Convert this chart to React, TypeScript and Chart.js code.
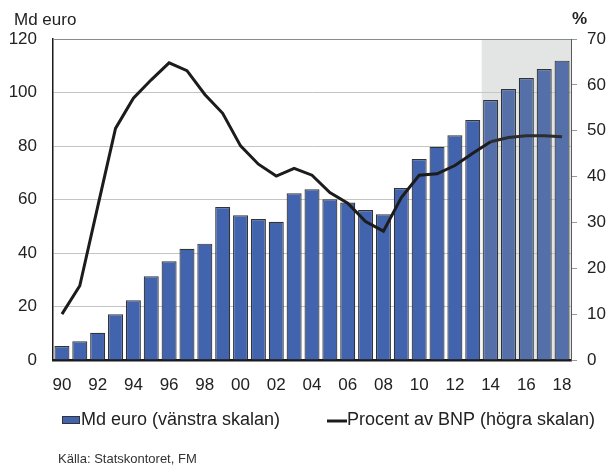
import React, { useEffect, useRef } from "react";
import { Chart, registerables } from "chart.js";

Chart.register(...registerables);

// ---- data ----
const categories = [
  "90", "91", "92", "93", "94", "95", "96", "97", "98", "99",
  "00", "01", "02", "03", "04", "05", "06", "07", "08", "09",
  "10", "11", "12", "13", "14", "15", "16", "17", "18",
];
const mdEuro = [
  5.2, 7.0, 10.2, 17.1, 22.3, 31.3, 36.9, 41.6, 43.5, 57.2,
  54.1, 52.7, 51.7, 62.3, 63.8, 60.1, 58.9, 56.1, 54.5, 64.3,
  75.1, 79.7, 84.0, 89.7, 97.2, 101.3, 105.4, 108.8, 111.9,
];
const procentAvBnp = [
  10.0, 16.2, 33.4, 50.5, 57.1, 61.1, 64.8, 63.1, 57.9, 53.8,
  46.7, 42.7, 40.1, 41.8, 40.3, 36.5, 34.2, 30.2, 28.1, 35.4,
  40.3, 40.6, 42.4, 45.1, 47.6, 48.5, 48.9, 48.9, 48.7,
];
const forecastFrom = "14";
const leftMax = 120;
const leftStep = 20;
const rightMax = 70;
const rightStep = 10;
const seriesLabels = ["Md euro (vänstra skalan)", "Procent av BNP (högra skalan)"];
const leftTitle = "Md euro";
const rightTitle = "%";
const sourceText = "Källa: Statskontoret, FM";

const FONT = "'Liberation Sans', Arial, Helvetica, sans-serif";
const TEXT = "#222222";
const BAR = "#4263ae";
const BAR_FC = "#5570a9";

export default function App() {
  const ref = useRef<HTMLCanvasElement | null>(null);

  useEffect(() => {
    if (!ref.current) return;
    const fcIndex = categories.indexOf(forecastFrom);

    const decor = {
      id: "decor",
      beforeDraw(chart: any) {
        const { ctx, chartArea, scales } = chart;
        const x = scales.x;
        const half = (x.getPixelForValue(1) - x.getPixelForValue(0)) / 2;
        const sx = x.getPixelForValue(fcIndex) - half;
        ctx.save();
        ctx.fillStyle = "#e3e5e5";
        ctx.fillRect(sx, chartArea.top, chartArea.right - sx, chartArea.bottom - chartArea.top);
        ctx.restore();
      },
      afterDraw(chart: any) {
        const { ctx, chartArea } = chart;
        ctx.save();
        // top border
        ctx.strokeStyle = "#8a8a8a";
        ctx.lineWidth = 1;
        ctx.beginPath();
        ctx.moveTo(chartArea.left, chartArea.top + 0.5);
        ctx.lineTo(chartArea.right, chartArea.top + 0.5);
        ctx.stroke();

        ctx.fillStyle = TEXT;
        ctx.textBaseline = "middle";
        ctx.font = `17px ${FONT}`;
        ctx.textAlign = "left";
        ctx.fillText(leftTitle, 14, 20);
        ctx.font = `bold 17px ${FONT}`;
        ctx.fillText(rightTitle, 572, 19);

        // legend
        ctx.font = `18px ${FONT}`;
        const ly = 420;
        ctx.fillStyle = BAR;
        ctx.fillRect(62, ly - 4, 18, 8);
        ctx.strokeStyle = "#333";
        ctx.lineWidth = 1;
        ctx.strokeRect(62.5, ly - 3.5, 17, 7);
        ctx.fillStyle = TEXT;
        ctx.fillText(seriesLabels[0], 81, ly);
        ctx.strokeStyle = "#1c1c1c";
        ctx.lineWidth = 3;
        ctx.beginPath();
        ctx.moveTo(327, ly + 1);
        ctx.lineTo(347, ly + 1);
        ctx.stroke();
        ctx.fillText(seriesLabels[1], 347, ly);

        // source
        ctx.font = `13px ${FONT}`;
        ctx.fillStyle = "#333";
        ctx.fillText(sourceText, 58, 459);
        ctx.restore();
      },
    };

    const chart = new Chart(ref.current, {
      type: "bar",
      data: {
        labels: categories,
        datasets: [
          {
            type: "line",
            label: seriesLabels[1],
            data: procentAvBnp,
            yAxisID: "y1",
            borderColor: "#1c1c1c",
            borderWidth: 3,
            pointRadius: 0,
            tension: 0,
            order: 0,
            segment: {
              borderColor: (c: any) => (c.p0DataIndex >= fcIndex ? "#2c2c2c" : "#1c1c1c"),
            },
          } as any,
          {
            type: "bar",
            label: seriesLabels[0],
            data: mdEuro,
            yAxisID: "y",
            backgroundColor: categories.map((_, i) => (i >= fcIndex ? BAR_FC : BAR)),
            borderColor: "#333333",
            borderWidth: 1.2,
            barPercentage: 0.84,
            categoryPercentage: 1,
            order: 1,
          },
        ],
      },
      options: {
        responsive: false,
        animation: false,
        devicePixelRatio: 1,
        layout: { padding: { left: 0, right: 0, top: 39, bottom: 0 } },
        plugins: { legend: { display: false }, tooltip: { enabled: false }, title: { display: false } },
        scales: {
          x: {
            grid: { display: false },
            border: { display: true, color: "#1a1a1a", width: 2.5 },
            ticks: {
              autoSkip: false,
              maxRotation: 0,
              padding: 7,
              color: TEXT,
              font: { family: FONT, size: 17 },
              callback: (_v: any, i: number) => (i % 2 === 0 ? categories[i] : ""),
            },
            afterFit: (s: any) => {
              s.height = 107;
            },
          },
          y: {
            position: "left",
            min: 0,
            max: leftMax,
            ticks: { stepSize: leftStep, padding: 16, color: TEXT, font: { family: FONT, size: 17 } },
            grid: { color: "#c4c4c4", lineWidth: 1, drawTicks: false },
            border: { display: true, color: "#1a1a1a", width: 1.5 },
            afterFit: (s: any) => {
              s.width = 53;
            },
          },
          y1: {
            position: "right",
            min: 0,
            max: rightMax,
            ticks: { stepSize: rightStep, padding: 10, color: TEXT, font: { family: FONT, size: 17 } },
            grid: { drawOnChartArea: false, drawTicks: true, tickLength: 6, tickColor: "#9a9a9a" },
            border: { display: true, color: "#5a5a5a", width: 1 },
            afterFit: (s: any) => {
              s.width = 36;
            },
          },
        },
      },
      plugins: [decor],
    });
    return () => chart.destroy();
  }, []);

  return (
    <div style={{ position: "absolute", left: 0, top: 0, width: 607, height: 467 }}>
      <canvas ref={ref} width={607} height={467} style={{ display: "block" }} />
    </div>
  );
}
